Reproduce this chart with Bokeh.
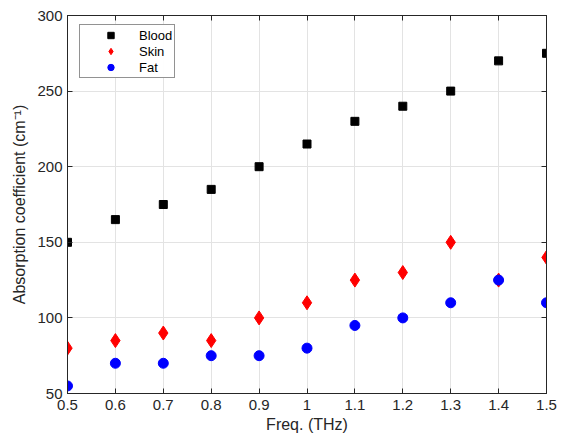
from bokeh.plotting import figure
from bokeh.models import FixedTicker, LinearAxis, Range1d, Legend, LegendItem
from bokeh.embed import file_html
from bokeh.resources import INLINE

freq = [0.5, 0.6, 0.7, 0.8, 0.9, 1.0, 1.1, 1.2, 1.3, 1.4, 1.5]
blood = [150, 165, 175, 185, 200, 215, 230, 240, 250, 270, 275]
skin = [80, 85, 90, 85, 100, 110, 125, 130, 150, 125, 140]
fat = [55, 70, 70, 75, 75, 80, 95, 100, 110, 125, 110]
x_ticks = [0.5, 0.6, 0.7, 0.8, 0.9, 1.0, 1.1, 1.2, 1.3, 1.4, 1.5]
x_tick_labels = ["0.5", "0.6", "0.7", "0.8", "0.9", "1", "1.1", "1.2", "1.3", "1.4", "1.5"]
y_ticks = [50, 100, 150, 200, 250, 300]

FONT = "Liberation Sans"

p = figure(width=560, height=435, output_backend="svg", toolbar_location=None,
           x_range=Range1d(0.5, 1.5), y_range=Range1d(50, 300),
           min_border_left=67, min_border_right=14, min_border_top=15, min_border_bottom=42)
p.outline_line_color = "#262626"
p.outline_line_width = 1

def style_axis(ax, ticks, show_labels=True):
    ax.ticker = FixedTicker(ticks=ticks)
    ax.major_tick_in = 5
    ax.major_tick_out = 0
    ax.minor_tick_in = 0
    ax.minor_tick_out = 0
    ax.axis_line_color = "#262626"
    ax.major_tick_line_color = "#262626"
    ax.major_label_text_font = FONT
    ax.major_label_text_font_size = "15px"
    ax.major_label_text_color = "#262626"
    ax.axis_label_text_font = FONT
    ax.axis_label_text_font_style = "normal"
    ax.axis_label_text_font_size = "16px"
    ax.axis_label_text_color = "#262626"
    if not show_labels:
        ax.major_label_overrides = {t: "" for t in ticks}
        ax.major_label_standoff = 0

style_axis(p.xaxis[0], x_ticks)
style_axis(p.yaxis[0], y_ticks)
p.xaxis[0].major_label_overrides = {t: l for t, l in zip(x_ticks, x_tick_labels)}
p.xaxis[0].major_label_standoff = 6
p.xaxis[0].axis_label = "Freq. (THz)"
p.xaxis[0].axis_label_standoff = 3
p.yaxis[0].major_label_standoff = 5
p.yaxis[0].axis_label = "Absorption coefficient (cm\u207b\u00b9)"
p.yaxis[0].axis_label_standoff = 6

top = LinearAxis()
style_axis(top, x_ticks, show_labels=False)
right = LinearAxis()
style_axis(right, y_ticks, show_labels=False)
p.add_layout(top, "above")
p.add_layout(right, "right")

p.xgrid.ticker = FixedTicker(ticks=x_ticks)
p.ygrid.ticker = FixedTicker(ticks=y_ticks)
p.xgrid.grid_line_color = "#e3e3e3"
p.ygrid.grid_line_color = "#e3e3e3"

r1 = p.scatter(freq, blood, marker="square", size=8, color="black")
r2 = p.scatter(freq, skin, marker="diamond", size=14, color="red")
r3 = p.scatter(freq, fat, marker="circle", size=10, color="blue")

legend = Legend(items=[LegendItem(label="Blood", renderers=[r1]),
                       LegendItem(label="Skin", renderers=[r2]),
                       LegendItem(label="Fat", renderers=[r3])],
                location=(12, 315))
legend.border_line_color = "#262626"
legend.background_fill_color = "white"
legend.label_text_font = FONT
legend.label_text_font_size = "13px"
legend.label_text_line_height = 1.0
legend.label_text_color = "black"
legend.glyph_width = 57
legend.glyph_height = 16
legend.label_standoff = 0
legend.spacing = 0
legend.label_height = 16
legend.padding = 2
legend.margin = 0
legend.label_width = 30
p.add_layout(legend)

open("out.html", "w").write(file_html(p, INLINE))
